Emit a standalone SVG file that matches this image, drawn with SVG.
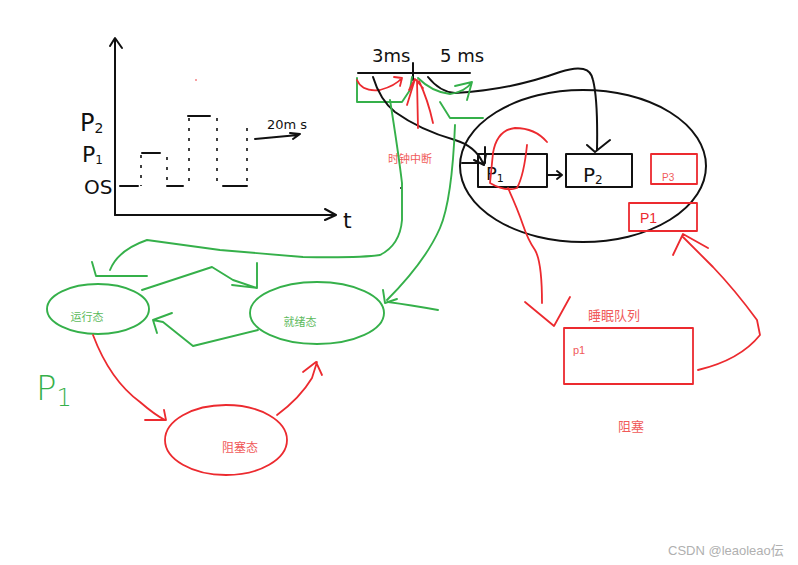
<svg xmlns="http://www.w3.org/2000/svg" width="798" height="565" viewBox="0 0 798 565">
<style>
.k{fill:none;stroke:#111;stroke-width:2;stroke-linecap:round;stroke-linejoin:round}
.kd{fill:none;stroke:#111;stroke-width:1.6;stroke-dasharray:3 7}
.g{fill:none;stroke:#35b04a;stroke-width:1.9;stroke-linecap:round;stroke-linejoin:round}
.r{fill:none;stroke:#ec2a2f;stroke-width:1.8;stroke-linecap:round;stroke-linejoin:round}
.hw{font-family:"DejaVu Sans","Liberation Sans",sans-serif;fill:#111}
.cj{font-family:"Noto Sans CJK SC",sans-serif;text-anchor:middle}
</style>
<rect width="798" height="565" fill="#fff"/>
<g id="chart">
<path class="k" d="M115 215 V40 M110 46 L115 38 L122 48"/>
<path class="k" d="M115 215 H335 M325 209 L336 215 L325 220"/>
<text class="hw" x="343" y="228" font-size="22">t</text>
<text class="hw" x="80" y="131" font-size="24">P<tspan font-size="14" dy="2">2</tspan></text>
<text class="hw" x="82" y="162" font-size="22">P<tspan font-size="12" dy="2">1</tspan></text>
<text class="hw" x="84" y="194" font-size="20">OS</text>
<path class="k" d="M120 186 H138 M167 186 H183 M223 186 H247 M142 153 H160 M188 116 H210"/>
<path class="kd" d="M141 155 V186 M167 157 V186 M189 118 V186 M217 118 V186 M247 128 V186"/>
<text class="hw" x="267" y="129" font-size="13">20m s</text>
<path class="k" d="M255 139 L298 135 M290 133 L300 134 L293 139"/>
<circle cx="196" cy="80" r="0.8" fill="#ec2a2f"/>
</g>
<g id="timeline">
<path class="k" d="M358 73 H470 M413 63 V80"/>
<text class="hw" x="372" y="62" font-size="18">3ms</text>
<text class="hw" x="440" y="62" font-size="18">5 ms</text>
<path class="g" d="M357 78 V102 H402 L410 90 L412 77"/>
<path class="r" d="M357 80 Q362 92 380 90 Q395 86 402 78 M394 77 L402 78 L400 86"/>
</g>
<g id="clock-interrupt">
<text class="cj" x="410" y="163" font-size="11" fill="#f05a5a">时钟中断</text>
<circle cx="401" cy="188" r="1" fill="#111"/>
</g>
<g id="ready-queue">
<ellipse class="k" cx="583" cy="166" rx="123" ry="76" stroke-width="2.5"/>
<g id="p1-box"><rect class="k" x="478" y="154" width="69" height="33"/><path class="k" d="M485 147 V163"/><text class="hw" x="486" y="180" font-size="18">P<tspan font-size="11" dy="2">1</tspan></text></g>
<g id="p2-box"><rect class="k" x="566" y="154" width="66" height="33"/><text class="hw" x="583" y="182" font-size="20">P<tspan font-size="12" dy="2">2</tspan></text></g>
<g id="p3-box"><rect class="r" x="651" y="154" width="46" height="30" stroke-width="2"/><text x="662" y="181" font-size="10" fill="#f05a5a" font-family="Liberation Sans,sans-serif">P3</text></g>
<g id="p1-red"><rect class="r" x="629" y="203" width="68" height="28" stroke-width="2"/><text x="640" y="223" font-size="14" fill="#ec2a2f" font-family="Liberation Sans,sans-serif">P1</text></g>
</g>
<g id="running"><ellipse class="g" cx="98" cy="309" rx="51" ry="25" stroke-width="2.8"/><text class="cj" x="87" y="321" font-size="11" fill="#5cba5c">运行态</text></g>
<g id="ready"><ellipse class="g" cx="317" cy="313" rx="67" ry="31" stroke-width="2.8"/><text class="cj" x="300" y="326" font-size="11" fill="#5cba5c">就绪态</text></g>
<g id="blocked"><ellipse class="r" cx="226" cy="440" rx="61" ry="35" stroke-width="2.8"/><text class="cj" x="240" y="452" font-size="12" fill="#f05a5a">阻塞态</text></g>
<g id="sleep-queue">
<text class="cj" x="614" y="320" font-size="13" fill="#f05a5a">睡眠队列</text>
<rect class="r" x="564" y="328" width="129" height="56" stroke-width="2.4"/>
<text x="573" y="354" font-size="11" fill="#f05a5a" font-family="Liberation Sans,sans-serif">p1</text>
<text class="cj" x="631" y="431" font-size="13" fill="#f05a5a">阻塞</text>
</g>
<text x="36" y="400" font-size="34" fill="#35b04a" font-family="DejaVu Sans,sans-serif" font-weight="200">P<tspan font-size="24" dy="6">1</tspan></text>
<g id="connectors">
<path class="k" d="M373 77 Q380 100 395 112 Q420 130 455 140 Q475 146 483 163 M474 160 L484 165 L486 154"/>
<path class="k" d="M428 77 Q440 92 455 93 Q510 90 560 72 Q590 62 593 80 Q598 100 597 150 M587 145 L595 152 L610 140"/>
<path class="k" d="M547 175 H562 M557 171 L562 175 L557 179"/>
<path class="k" d="M462 163 H480"/>
<path class="r" d="M415 79 L407 105 M417 80 L418 128 M419 81 Q428 100 433 123 M409 90 L415 79 L423 88"/>
<path class="g" d="M418 78 Q432 92 450 94 Q465 92 472 82 M455 86 L472 82 L467 100"/>
<path class="g" d="M440 102 L450 118 H483"/>
<path class="g" d="M455 125 Q452 200 440 228 Q425 262 387 300 M383 290 L385 303 L397 299"/>
<path class="g" d="M388 302 Q410 305 438 310"/>
<path class="g" d="M390 100 Q398 150 402 183 V220 Q400 245 380 255 Q360 258 303 257 L220 250 L147 240 Q118 250 110 270 M92 262 L96 276 H147"/>
<path class="g" d="M142 290 L212 267 L233 280 L257 288 M232 285 L257 288 V263"/>
<path class="g" d="M258 330 L193 346 L163 322 L153 320 M172 313 L153 320 L157 333"/>
<path class="r" d="M93 335 Q110 380 140 402 Q155 415 165 420 M145 420 H166 L164 410"/>
<path class="r" d="M277 415 Q300 398 312 378 L317 362 M303 372 L316 362 L322 375"/>
<path class="r" d="M547 142 Q535 128 515 128 Q497 130 493 153 L490 183 Q505 192 517 188 Q524 175 527 145"/>
<path class="r" d="M508 188 Q518 210 523 225 Q528 240 535 250 Q542 262 542 303 M525 302 L554 326 L570 297"/>
<path class="r" d="M698 370 Q740 360 760 335 L757 320 Q735 290 713 267 L683 237 M673 255 L683 234 L708 248"/>
</g>
<text x="668" y="555" font-size="13" fill="#b0b0b0" font-family="Liberation Sans,Noto Sans CJK SC,sans-serif">CSDN @leaoleao伝</text>
</svg>
